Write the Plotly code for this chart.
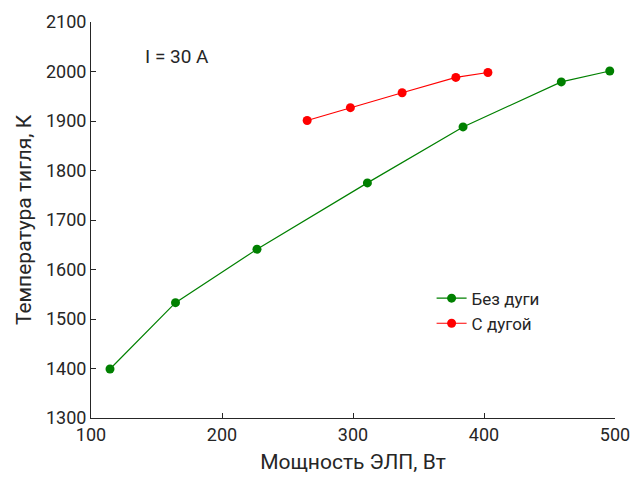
import plotly.graph_objects as go

x_no_arc = [114.5, 164.5, 226.7, 311, 384, 459, 496]
y_no_arc = [1399, 1533, 1641, 1775, 1888, 1979, 2001]
x_arc = [265, 298, 337.5, 378.5, 403]
y_arc = [1901, 1927, 1957, 1988, 1998]
name_no_arc = "Без дуги"
name_arc = "С дугой"
x_ticks = [100, 200, 300, 400, 500]
y_ticks = [1300, 1400, 1500, 1600, 1700, 1800, 1900, 2000, 2100]

fig = go.Figure()
fig.add_trace(go.Scatter(x=x_no_arc, y=y_no_arc, mode="lines+markers", name=name_no_arc,
                         line=dict(color="#008000", width=1.2),
                         marker=dict(color="#008000", size=9)))
fig.add_trace(go.Scatter(x=x_arc, y=y_arc, mode="lines+markers", name=name_arc,
                         line=dict(color="#ff0000", width=1.2),
                         marker=dict(color="#ff0000", size=9)))

axcol = "#262626"
fig.update_layout(
    width=633, height=477,
    margin=dict(l=91, r=18, t=22, b=59),
    plot_bgcolor="white", paper_bgcolor="white",
    font=dict(family="Roboto", color=axcol, size=18),
    showlegend=True,
    legend=dict(x=0.65, y=0.27, xanchor="left", yanchor="middle",
                bgcolor="rgba(0,0,0,0)", font=dict(size=17), tracegroupgap=0,
                itemwidth=30),
    xaxis=dict(range=[100, 500], tickvals=x_ticks, ticks="inside", ticklen=5,
               showline=True, linecolor=axcol, linewidth=1, tickcolor=axcol,
               showgrid=False, zeroline=False, automargin=False,
               title=dict(text="Мощность ЭЛП, Вт", font=dict(size=21), standoff=10)),
    yaxis=dict(range=[1300, 2100], tickvals=y_ticks, ticks="inside", ticklen=5,
               showline=True, linecolor=axcol, linewidth=1, tickcolor=axcol,
               showgrid=False, zeroline=False, automargin=False,
               title=dict(text="Температура тигля, К", font=dict(size=21), standoff=8)),
    annotations=[dict(text="I = 30 A", x=0.1, y=0.914, xref="paper", yref="paper",
                      showarrow=False, xanchor="left", yanchor="middle",
                      font=dict(size=19, color=axcol))],
)

fig.write_html("out.html", config={"displayModeBar": False},
               post_script="document.body.style.margin='0';")
